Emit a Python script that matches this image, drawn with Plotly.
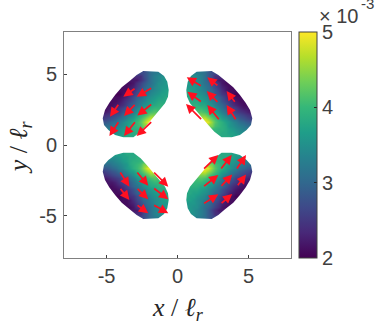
import numpy as np
import plotly.graph_objs as go

# Lobe colour values (x 1e-3), upper right lobe, rows top to bottom on a 0.25 grid
lobe_x = [0.625 + 0.25 * c for c in range(20)]
lobe_y = [5.125 - 0.25 * r for r in range(19)]
lobe_start = [3, 2, 1, 1, 1, 0, 0, 0, 0, 1, 2, 3, 4, 5, 6, 7, 8, 9, 10]
lobe_rows = [
    [3.3, 3.2, 3.1, 2.9, 2.7],
    [3.5, 3.4, 3.3, 3.1, 2.9, 2.7, 2.4],
    [3.6, 3.5, 3.4, 3.3, 3.1, 2.9, 2.6, 2.4, 2.2],
    [3.6, 3.5, 3.5, 3.3, 3.1, 3.0, 2.8, 2.6, 2.4, 2.2, 2.1],
    [3.6, 3.6, 3.5, 3.4, 3.2, 3.1, 2.9, 2.7, 2.5, 2.3, 2.2, 2.1],
    [3.7, 3.7, 3.6, 3.5, 3.4, 3.3, 3.1, 3.0, 2.8, 2.6, 2.4, 2.2, 2.1, 2.1],
    [3.8, 3.7, 3.7, 3.6, 3.5, 3.4, 3.2, 3.1, 2.9, 2.7, 2.5, 2.4, 2.2, 2.1, 2.0],
    [3.8, 3.8, 3.7, 3.7, 3.6, 3.5, 3.4, 3.2, 3.0, 2.9, 2.7, 2.5, 2.3, 2.2, 2.1, 2.1],
    [3.8, 3.8, 3.8, 3.8, 3.7, 3.6, 3.5, 3.3, 3.2, 3.0, 2.8, 2.6, 2.5, 2.3, 2.2, 2.1, 2.1],
    [3.9, 3.9, 3.9, 3.8, 3.8, 3.6, 3.5, 3.3, 3.1, 3.0, 2.8, 2.6, 2.4, 2.3, 2.2, 2.1, 2.1],
    [4.0, 4.0, 4.0, 3.9, 3.8, 3.7, 3.5, 3.3, 3.1, 2.9, 2.8, 2.6, 2.5, 2.3, 2.2, 2.2, 2.1],
    [4.1, 4.2, 4.1, 4.0, 3.8, 3.7, 3.5, 3.3, 3.1, 2.9, 2.8, 2.6, 2.5, 2.4, 2.3, 2.2],
    [4.4, 4.4, 4.2, 4.0, 3.9, 3.7, 3.5, 3.3, 3.2, 3.0, 2.8, 2.7, 2.6, 2.5, 2.4],
    [4.8, 4.6, 4.3, 4.1, 3.9, 3.7, 3.6, 3.4, 3.2, 3.1, 2.9, 2.8, 2.7, 2.6],
    [4.9, 4.5, 4.2, 4.0, 3.9, 3.7, 3.6, 3.4, 3.3, 3.1, 3.0, 2.9, 2.8],
    [4.4, 4.1, 4.0, 3.9, 3.8, 3.6, 3.5, 3.4, 3.3, 3.2, 3.1],
    [4.0, 3.9, 3.9, 3.8, 3.7, 3.6, 3.5, 3.4, 3.3, 3.3],
    [3.9, 3.8, 3.8, 3.7, 3.7, 3.6, 3.5, 3.5],
    [3.8, 3.8, 3.8, 3.7, 3.7],
]

# Outline of the upper right lobe, clockwise on screen
outline_x = [1.35, 2.41, 2.88, 3.35, 3.93, 4.40, 4.80, 5.11, 5.27, 5.18, 4.87, 4.40,
             3.82, 3.11, 2.60, 2.17, 1.82, 1.35, 0.88, 0.67, 0.62, 0.72, 0.95]
outline_y = [5.19, 5.24, 4.95, 4.55, 4.08, 3.54, 3.00, 2.48, 1.89, 1.42, 1.06, 0.71,
             0.54, 0.54, 0.94, 1.42, 1.82, 2.36, 2.95, 3.42, 3.89, 4.48, 4.88]

# Arrows: tail x, tail y, head x, head y for each lobe
arrows_tr = [
    (1.75, 4.13, 0.65, 4.79), (2.92, 4.13, 2.10, 4.79),
    (1.75, 3.00, 0.69, 3.77), (2.92, 2.95, 2.06, 3.82), (4.12, 2.95, 3.46, 3.82),
    (1.77, 1.72, 0.60, 2.90), (3.00, 1.72, 2.10, 2.83), (4.17, 1.72, 3.46, 2.83),
]
arrows_tl = [
    (-1.75, 4.08, -2.88, 3.42), (-2.92, 4.06, -3.82, 3.42),
    (-1.75, 2.95, -2.83, 2.08), (-2.92, 2.95, -3.77, 2.05), (-4.10, 2.95, -4.76, 2.00),
    (-1.75, 1.72, -2.88, 0.64), (-2.92, 1.72, -3.77, 0.64), (-4.10, 1.72, -4.80, 0.64),
]
arrows_bl = [
    (-4.10, -1.84, -3.39, -2.95), (-2.92, -1.84, -2.06, -2.88), (-1.75, -1.84, -0.65, -2.95),
    (-4.10, -3.00, -3.39, -3.89), (-2.92, -3.00, -2.06, -3.84), (-1.75, -3.00, -0.65, -3.84),
    (-2.92, -4.20, -2.06, -4.83), (-1.75, -4.20, -0.65, -4.83),
]
arrows_br = [
    (1.77, -1.77, 2.88, -0.71), (3.00, -1.77, 3.82, -0.71), (4.12, -1.77, 4.83, -0.71),
    (1.77, -3.00, 2.88, -2.12), (3.00, -3.00, 3.86, -2.08), (4.17, -2.95, 4.83, -2.08),
    (1.77, -4.20, 2.88, -3.49), (3.00, -4.20, 3.86, -3.47),
]

x_ticks = [-5, 0, 5]
y_ticks = [-5, 0, 5]
cbar_ticks = [2, 3, 4, 5]

TEXT = '#404040'
tick_font = dict(family='Liberation Sans', size=20, color=TEXT)
title_font = dict(family='Liberation Serif', size=26, color='#262626')

# full grid so the smoothing has a value everywhere, the mask below cuts the shape
lobe_z = np.array([[row[0]] * s + row + [row[-1]] * (len(lobe_x) - s - len(row))
                   for s, row in zip(lobe_start, lobe_rows)])

fig = go.Figure()

# the four lobes are mirror images of each other
quadrants = [(1, 1), (-1, 1), (1, -1), (-1, -1)]
for sx, sy in quadrants:
    z = lobe_z[:, ::-1] if sx < 0 else lobe_z
    z = z if sy < 0 else z[::-1, :]
    xs = sorted(sx * v for v in lobe_x)
    ys = sorted(sy * v for v in lobe_y)
    fig.add_trace(go.Heatmap(x=xs, y=ys, z=z.tolist(), coloraxis='coloraxis', zsmooth='best'))

# white mask with a hole per lobe, holes wind against the outer rectangle
mask_x = [-8, 8, 8, -8, -8]
mask_y = [-8, -8, 8, 8, -8]
for sx, sy in quadrants:
    px = [sx * v for v in outline_x]
    py = [sy * v for v in outline_y]
    if sx * sy < 0:
        px, py = px[::-1], py[::-1]
    mask_x += [None] + px + px[:1]
    mask_y += [None] + py + py[:1]
fig.add_trace(go.Scatter(x=mask_x, y=mask_y, mode='lines', fill='toself', fillcolor='white',
                         line=dict(width=0), hoverinfo='skip'))

for tail_x, tail_y, head_x, head_y in arrows_tr + arrows_tl + arrows_bl + arrows_br:
    fig.add_annotation(x=head_x, y=head_y, ax=tail_x, ay=tail_y, xref='x', yref='y',
                       axref='x', ayref='y', text='', showarrow=True, arrowhead=2,
                       arrowsize=1.1, arrowwidth=1.7, arrowcolor='#ff1020', standoff=0)

# colorbar exponent
fig.add_annotation(x=1.115, y=1.013, xref='paper', yref='paper', xanchor='left', yanchor='bottom',
                   text='× 10', showarrow=False, font=tick_font)
fig.add_annotation(x=1.3, y=1.08, xref='paper', yref='paper', xanchor='left', yanchor='bottom',
                   text='-3', showarrow=False, font=dict(family='Liberation Sans', size=15, color=TEXT))

# axis titles as annotations, a title standoff would push the margins
fig.add_annotation(x=0.5, y=-0.225, xref='paper', yref='paper', xanchor='center', yanchor='middle',
                   text='<i>x</i> / <i>ℓ<sub>r</sub></i>', showarrow=False, font=title_font)
fig.add_annotation(x=-0.194, y=0.49, xref='paper', yref='paper', xanchor='center', yanchor='middle',
                   text='<i>y</i> / <i>ℓ<sub>r</sub></i>', textangle=-90, showarrow=False, font=title_font)

fig.update_layout(
    width=377, height=325,
    margin=dict(l=64, r=86, t=32, b=67),
    paper_bgcolor='white', plot_bgcolor='white',
    showlegend=False,
    coloraxis=dict(
        colorscale='Viridis', cmin=2, cmax=5,
        colorbar=dict(
            x=1.037, xanchor='left', xpad=0, y=0.5, yanchor='middle', ypad=0,
            len=1, lenmode='fraction', thickness=18, thicknessmode='pixels',
            tickvals=cbar_ticks, ticks='inside', ticklen=3, tickcolor='#262626',
            tickfont=tick_font, outlinecolor='#404040', outlinewidth=1,
        ),
    ),
)
fig.update_xaxes(range=[-8, 8], tickvals=x_ticks, ticktext=['-5', '0', '5'], ticks='inside', ticklen=3,
                 tickcolor='#404040', tickfont=tick_font, showgrid=False, zeroline=False,
                 showline=True, mirror=True, linecolor='#808080', linewidth=1)
fig.update_yaxes(range=[-8, 8], tickvals=y_ticks, ticktext=['-5', '0', '5'], ticks='inside', ticklen=3,
                 ticklabelstandoff=2,
                 tickcolor='#404040', tickfont=tick_font, showgrid=False, zeroline=False,
                 showline=True, mirror=True, linecolor='#808080', linewidth=1)

# body margin would cut the exponent at the top of the window
fig.write_html("out.html", config={'displayModeBar': False},
               post_script="document.body.style.margin = '0';")
